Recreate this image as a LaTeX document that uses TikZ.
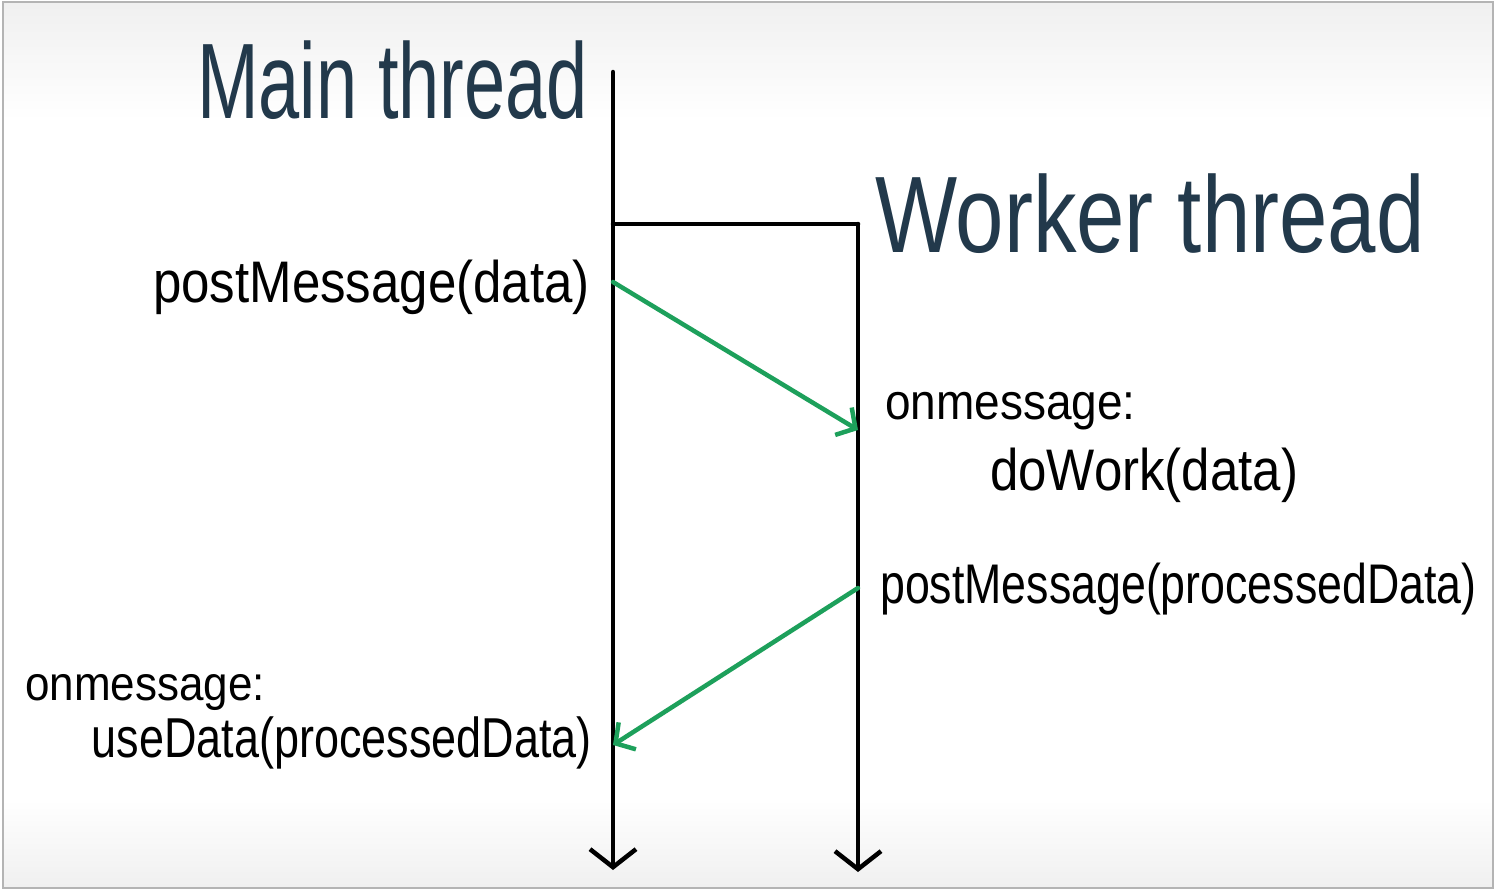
\documentclass[tikz,border=0pt]{standalone}
\usepackage{fontspec}
\setmainfont{Liberation Sans}
\usetikzlibrary{arrows.meta}
\definecolor{navy}{HTML}{22394B}
\definecolor{arrowgreen}{HTML}{1DA05B}
\definecolor{framegray}{HTML}{B4B4B4}
\begin{document}
\begin{tikzpicture}[x=1pt,y=-1pt,
  lifeline/.style={line width=4.5pt,black,line cap=round},
  bar/.style={line width=4.5pt,black,line cap=round,
    -{Straight Barb[length=18pt,width=46pt,line width=4.5pt]}},
  msg/.style={line width=4.5pt,arrowgreen,line cap=round,
    -{Straight Barb[length=14pt,width=32pt,line width=4.5pt]}},
  head/.style={inner sep=0pt,text=navy},
  lbl/.style={inner sep=0pt,text=black}]
\useasboundingbox (0,0) rectangle (1497,894);
\fill[white] (0,0) rectangle (1497,894);
\shade[top color=gray!12,bottom color=white] (3,2) rectangle (1493,120);
\shade[top color=white,bottom color=gray!12] (3,800) rectangle (1493,888);
\draw[framegray,line width=2pt] (3,2) rectangle (1493,888);
% coordinates
\coordinate (mtop) at (613,72);
\coordinate (mbot) at (613,870);
\coordinate (split) at (613,224);
\coordinate (wtop) at (858,224);
\coordinate (wbot) at (858,872);
\coordinate (send1) at (613,282);
\coordinate (recv1) at (858,430);
\coordinate (send2) at (858,588);
\coordinate (recv2) at (613,745);
% lifelines
\draw[bar] (mtop) -- (mbot);
\draw[lifeline] (split) -- (wtop);
\draw[bar] (wtop) -- (wbot);
% messages
\draw[msg] (send1) -- (recv1);
\draw[msg] (send2) -- (recv2);
% headings
\node[head,anchor=base west] (mainlbl) at (197,118)
  {\fontsize{74}{74}\selectfont\scalebox{1}[1.45]{Main thread}};
\node[head,anchor=base west] (worklbl) at (875,252)
  {\fontsize{87}{87}\selectfont\scalebox{1}[1.25]{Worker\hspace{24pt}thread}};
% labels
\node[lbl,anchor=base east] (pm1) at (590,302)
  {\fontsize{51}{51}\selectfont\scalebox{1}[1.15]{postMessage(data)}};
\node[lbl,anchor=base west] (om1) at (885,419)
  {\fontsize{46}{46}\selectfont\scalebox{1}[1.1]{onmessage:}};
\node[lbl,anchor=base west] (dw) at (990,490)
  {\fontsize{51}{51}\selectfont\scalebox{1}[1.15]{doWork(data)}};
\node[lbl,anchor=base west] (pm2) at (880,603)
  {\fontsize{44.7}{44.7}\selectfont\scalebox{1}[1.25]{postMessage(processedData)}};
\node[lbl,anchor=base west] (om2) at (25,700)
  {\fontsize{44}{44}\selectfont\scalebox{1}[1.1]{onmessage:}};
\node[lbl,anchor=base east] (ud) at (592,757)
  {\fontsize{45}{45}\selectfont\scalebox{1}[1.25]{useData(processedData)}};
\end{tikzpicture}
\end{document}
